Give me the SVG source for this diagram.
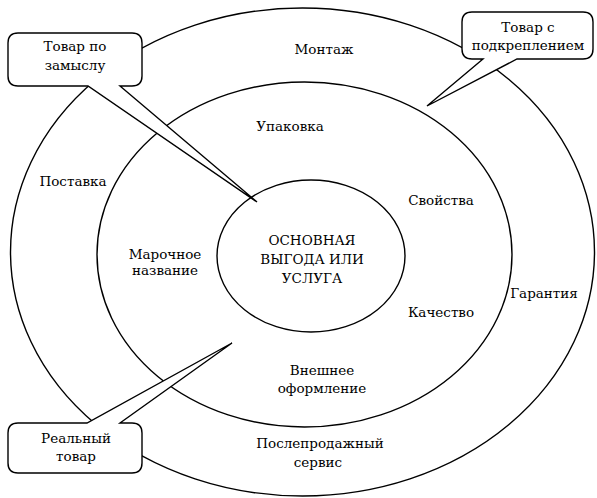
<svg xmlns="http://www.w3.org/2000/svg" width="597" height="498" viewBox="0 0 597 498">
<style>
.ring{fill:none;stroke:#000;stroke-width:1.4}
.call{fill:#fff;stroke:#000;stroke-width:1.4;stroke-linejoin:miter}
text{font-family:"DejaVu Serif","Liberation Serif",serif;font-size:13.5px;fill:#000;text-anchor:middle}
</style>
<rect width="597" height="498" fill="#fff"/>
<g id="rings">
<g id="outer"><ellipse class="ring" cx="302.5" cy="252" rx="292" ry="244"/></g>
<g id="middle"><ellipse class="ring" cx="304.5" cy="254.5" rx="207.5" ry="172.5"/></g>
<g id="inner"><ellipse class="ring" cx="311" cy="256" rx="94" ry="76"/></g>
</g>
<g id="labels">
<text x="324" y="54">Монтаж</text>
<text x="290" y="131">Упаковка</text>
<text x="73" y="186">Поставка</text>
<text x="441" y="205">Свойства</text>
<text x="165" y="259">Марочное</text>
<text x="165" y="275">название</text>
<text x="544" y="298">Гарантия</text>
<text x="441" y="317">Качество</text>
<text x="322" y="375">Внешнее</text>
<text x="322" y="393">оформление</text>
<text x="320" y="448">Послепродажный</text>
<text x="318" y="467">сервис</text>
</g>
<g id="core">
<text x="312" y="245">ОСНОВНАЯ</text>
<text x="312" y="264">ВЫГОДА ИЛИ</text>
<text x="312" y="283">УСЛУГА</text>
</g>
<g id="connectors">
<g id="callout-idea">
<path class="call" d="M18,33 H132 Q142,33 142,43 V76 Q142,86 132,86 H120 L257,202 L88,86 H18 Q8,86 8,76 V43 Q8,33 18,33 Z"/>
<text x="75" y="51">Товар по</text>
<text x="75" y="70">замыслу</text>
</g>
<g id="callout-augmented">
<path class="call" d="M472,12 H583 Q593,12 593,22 V49 Q593,59 583,59 H517 L427,106 L483,59 H472 Q462,59 462,49 V22 Q462,12 472,12 Z"/>
<text x="528" y="32">Товар с</text>
<text x="528" y="50">подкреплением</text>
</g>
<g id="callout-actual">
<path class="call" d="M18,423 H87 L232,343 L120,423 H132 Q142,423 142,433 V463 Q142,473 132,473 H18 Q8,473 8,463 V433 Q8,423 18,423 Z"/>
<text x="76" y="443">Реальный</text>
<text x="76" y="461">товар</text>
</g>
</g>
</svg>
